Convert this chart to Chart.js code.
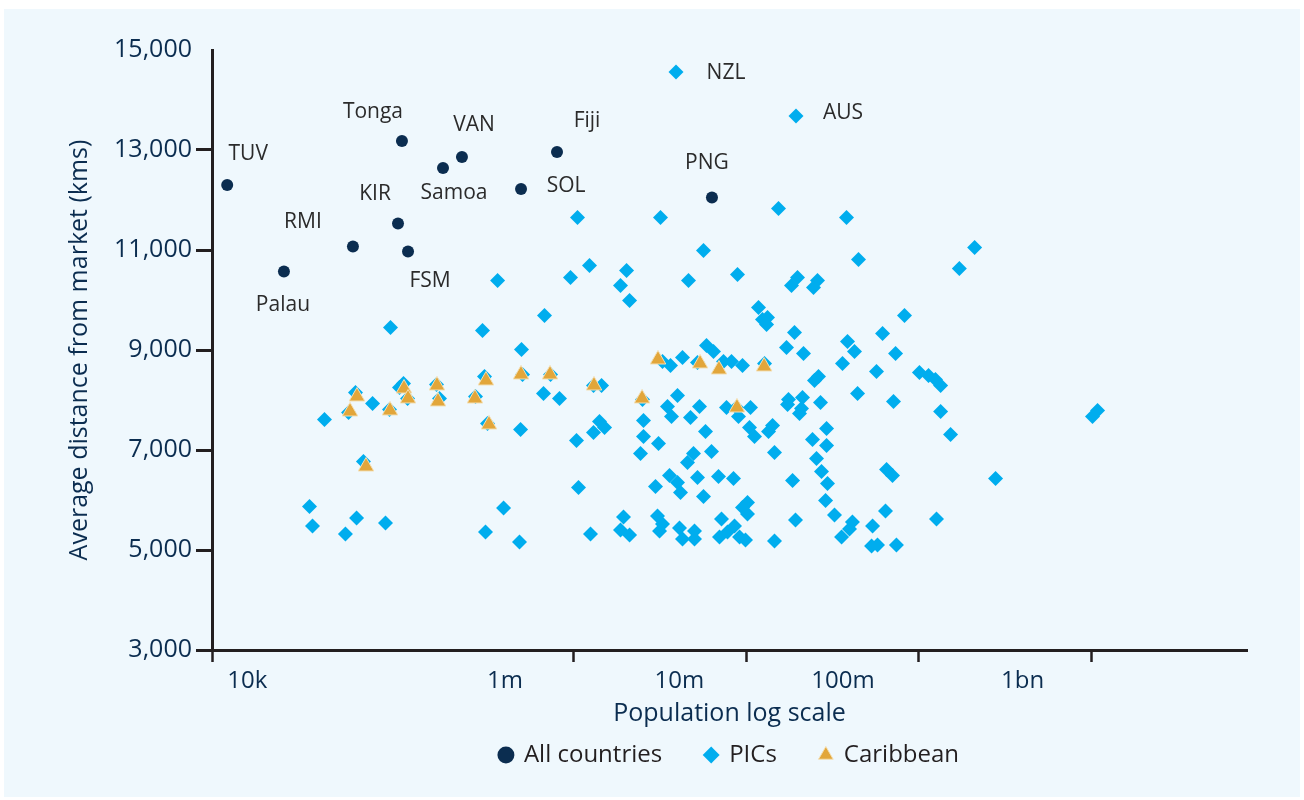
<!DOCTYPE html>
<html>
<head>
<meta charset="utf-8">
<title>Average distance from market vs population</title>
<script src="https://cdn.jsdelivr.net/npm/chart.js@4.4.1/dist/chart.umd.min.js"></script>
<style>
  html, body { margin: 0; padding: 0; background: #ffffff; }
  #panel { position: absolute; left: 4px; top: 9px; width: 1296px; height: 788px; background: #eff8fd; }
  #wrap { position: absolute; left: 0; top: 0; width: 1304px; height: 800px; }
</style>
</head>
<body>
<div id="panel"></div>
<div id="wrap"><canvas id="chart" width="1304" height="800"></canvas></div>
<script>
// -------------------------------
// Data --------------------------
// -------------------------------
const ALL_NAMES = ["TUV", "Palau", "RMI", "KIR", "Tonga", "FSM", "Samoa", "VAN", "SOL", "Fiji", "PNG"];
const ALL_POP = [9800, 20900, 52500, 95800, 101000, 109500, 174700, 225000, 495000, 800000, 6330000];
const ALL_DIST = [12300, 10570, 11070, 11530, 13180, 10970, 12640, 12860, 12220, 12960, 12050];

// first two PICs carry a name tag
const PIC_NAMES = ["NZL", "AUS"];
const PIC_POP = [
  3917000, 19440000,
  86700, 296000, 677000, 498000, 362000, 68200, 35900, 668000, 827000, 492000,
  1411000, 1509000, 1302000, 1038000, 1066000, 392000, 29400, 30600, 55100, 47500,
  81100, 308000, 485000, 1251000, 54300, 49500, 85500, 103100, 97700, 108800,
  160200, 166700, 269600, 304000, 316400, 505000, 734000, 1302000, 1450000, 60400,
  2505000, 1052000, 3186000, 15390000, 38140000, 5656000, 44770000, 1235000, 958000, 2024000,
  1868000, 2107000, 4630000, 8904000, 19830000, 18310000, 25900000, 24550000, 11780000, 12430000,
  13290000, 13120000, 19050000, 17120000, 21490000, 36160000, 38650000, 42440000, 26250000, 24880000,
  82700000, 61700000, 73400000, 56900000, 101000000, 114000000, 125000000, 134000000, 211000000, 172000000,
  44200000, 71400000, 134000000, 153000000, 1088000000, 1017000000, 279000000, 65100000, 70500000, 64200000,
  126800000, 54000000, 41300000, 39700000, 35700000, 53300000, 57700000, 74300000, 5887000, 6463000,
  4272000, 3272000, 3640000, 5220000, 7386000, 8217000, 9519000, 12770000, 3997000, 3497000,
  3690000, 5362000, 4755000, 7688000, 8786000, 9024000, 10590000, 2539000, 2539000, 3101000,
  2439000, 5809000, 10450000, 11170000, 13470000, 14210000, 14590000, 6293000, 4949000, 4567000,
  17590000, 17360000, 21200000, 26960000, 20920000, 20370000, 29220000, 24230000, 29220000, 25560000,
  27320000, 29600000, 28830000, 32500000, 18560000, 3592000, 3997000, 4160000, 5220000, 6908000,
  8440000, 2980000, 5656000, 10170000, 9519000, 10170000, 1944000, 1868000, 2107000, 3060000,
  3272000, 3144000, 4105000, 4272000, 5015000, 5015000, 7192000, 7003000, 7792000, 8553000,
  9147000, 9906000, 14590000, 19310000,
];
const PIC_DIST = [
  14560, 13680,
  9450, 9390, 9690, 9010, 10390, 7930, 7610, 8130, 8030, 7410,
  7570, 7450, 7350, 7190, 6250, 5840, 5870, 5480, 5640, 5320,
  5540, 5360, 5160, 5320, 8150, 7750, 7810, 8330, 8250, 8030,
  8310, 8030, 8070, 8470, 7530, 8510, 8510, 8290, 8290, 6770,
  8010, 11650, 11650, 11830, 11650, 10990, 10810, 10690, 10450, 10590,
  10290, 9990, 10390, 10510, 10450, 10290, 10390, 10250, 9850, 9610,
  9650, 9510, 9350, 9050, 8930, 8730, 9170, 8970, 8470, 8390,
  9690, 9330, 8930, 8570, 8550, 8490, 8410, 8290, 11050, 10630,
  8130, 7970, 7770, 7310, 7790, 7670, 6430, 6610, 6490, 5780,
  5620, 5480, 5560, 5420, 5260, 5080, 5100, 5100, 9090, 8970,
  8850, 8770, 8690, 8750, 8770, 8770, 8690, 8730, 8090, 7870,
  7670, 7870, 7650, 7850, 7850, 7670, 7850, 7590, 7270, 7130,
  6930, 7370, 7450, 7270, 7370, 7490, 6950, 6970, 6930, 6750,
  8010, 7910, 8050, 7950, 7830, 7730, 7430, 7210, 7090, 6830,
  6570, 6330, 5990, 5700, 6390, 6490, 6350, 6150, 6450, 6470,
  6430, 6270, 6070, 5950, 5850, 5720, 5660, 5400, 5300, 5680,
  5520, 5380, 5440, 5220, 5380, 5220, 5620, 5260, 5360, 5480,
  5260, 5200, 5180, 5600,
];

const CAR_POP = [
  55400, 50500, 86100, 103800, 109500, 161200, 163400, 267700, 310000, 322800,
  494800, 728800, 1311000, 62500, 3080000, 5400000, 6950000, 12700000, 2490000, 8840000,
];
const CAR_DIST = [
  8070, 7770, 7790, 8230, 8030, 8290, 7970, 8030, 8390, 7510,
  8510, 8510, 8290, 6670, 8810, 8730, 8610, 8670, 8030, 7850,
];

// axis range and ticks
const X_MIN = 8000;
const X_MAX = 8e9;
const X_MARKS = [8000, 1e6, 1e7, 1e8, 1e9];
// the source prints its labels left of the tick marks
const X_LABELS = ["10k", "1m", "10m", "100m", "1bn"];
const X_LABEL_AT = [12800, 4e5, 4.1e6, 3.64e7, 4e8];
const Y_MIN = 3000;
const Y_MAX = 15000;
const Y_STEP = 2000;

// -------------------------------
// Styling -----------------------
// -------------------------------
const NAVY = "#0b2d50";
const AXIS = "#231f20";
const TEXT = "#2b2b2b";

// name tag offsets from their point, in pixels
const TAG_SHIFT = {
  TUV: [21, -31], Palau: [-1, 34], RMI: [-50, -24], KIR: [-23, -29],
  Tonga: [-29, -29], FSM: [22, 30], Samoa: [11, 25], VAN: [12, -32],
  SOL: [45, -3], Fiji: [30, -31], PNG: [-5, -34], NZL: [50, 1], AUS: [47, -3],
};

Chart.defaults.font.family = '"Open Sans", sans-serif';
Chart.defaults.color = NAVY;

const toPoints = (xs, ys) => xs.map((x, i) => ({ x: x, y: ys[i] }));

const nameTags = {
  id: "nameTags",
  afterDatasetsDraw(chart) {
    const { ctx, scales } = chart;
    ctx.save();
    ctx.font = '21px "Open Sans"';
    ctx.fillStyle = TEXT;
    ctx.textAlign = "center";
    ctx.textBaseline = "middle";
    const tag = (names, pops, dists) => names.forEach((name, i) => {
      const shift = TAG_SHIFT[name];
      ctx.fillText(
        name,
        scales.x.getPixelForValue(pops[i]) + shift[0],
        scales.y.getPixelForValue(dists[i]) + shift[1]
      );
    });
    tag(ALL_NAMES, ALL_POP, ALL_DIST);
    tag(PIC_NAMES, PIC_POP, PIC_DIST);
    ctx.restore();
  },
};

// -------------------------------
// Chart -------------------------
// -------------------------------
const ctx = document.getElementById("chart").getContext("2d");
const chart = new Chart(ctx, {
  type: "scatter",
  data: {
    datasets: [
      {
        label: "All countries",
        data: toPoints(ALL_POP, ALL_DIST),
        pointStyle: "circle",
        pointRadius: 6,
        backgroundColor: NAVY,
        borderWidth: 0,
        order: 0,
      },
      {
        label: "PICs",
        data: toPoints(PIC_POP, PIC_DIST),
        pointStyle: "rectRot",
        pointRadius: 7.5,
        backgroundColor: "#00adee",
        borderWidth: 0,
        order: 2,
      },
      {
        label: "Caribbean",
        data: toPoints(CAR_POP, CAR_DIST),
        pointStyle: "triangle",
        pointRadius: 9,
        backgroundColor: "#e2a63a",
        borderColor: "#f3dfb4",
        borderWidth: 1,
        order: 1,
      },
    ],
  },
  options: {
    responsive: false,
    animation: false,
    events: [],
    devicePixelRatio: 1,
    layout: { padding: { top: 50, right: 57, bottom: 23, left: 0 } },
    plugins: {
      tooltip: { enabled: false },
      legend: {
        position: "bottom",
        fullSize: false,
        labels: {
          usePointStyle: true,
          boxWidth: 12,
          boxHeight: 12,
          padding: 43,
          color: AXIS,
          font: { size: 24 },
          sort: (a, b) => a.datasetIndex - b.datasetIndex,
        },
      },
    },
    scales: {
      x: {
        type: "logarithmic",
        min: X_MIN,
        max: X_MAX,
        position: "bottom",
        weight: 0,
        afterBuildTicks: (s) => { s.ticks = X_MARKS.map((v) => ({ value: v })); },
        afterFit: (s) => { s.height = 9; },
        ticks: { display: false },
        grid: { drawOnChartArea: false, tickLength: 12, tickWidth: 2.5, tickColor: AXIS, color: AXIS },
        border: { color: AXIS, width: 3 },
      },
      x2: {
        type: "logarithmic",
        axis: "x",
        min: X_MIN,
        max: X_MAX,
        position: "bottom",
        weight: 1,
        afterBuildTicks: (s) => { s.ticks = X_LABEL_AT.map((v) => ({ value: v })); },
        afterFit: (s) => { s.height = 41; },
        ticks: {
          autoSkip: false,
          maxRotation: 0,
          padding: 0,
          color: NAVY,
          font: { size: 24 },
          callback: (v, i) => X_LABELS[i],
        },
        grid: { display: false },
        border: { display: false },
        title: {
          display: true,
          text: "Population log scale",
          color: NAVY,
          font: { size: 25 },
          padding: { top: 0, bottom: -29 },
        },
      },
      y: {
        min: Y_MIN,
        max: Y_MAX,
        afterFit: (s) => { s.width = 212; },
        ticks: {
          stepSize: Y_STEP,
          padding: 4,
          color: NAVY,
          font: { size: 25 },
          callback: (v) => v.toLocaleString("en-US"),
        },
        grid: {
          drawOnChartArea: false,
          tickLength: 16,
          tickWidth: 3,
          tickColor: (c) => (c.tick && c.tick.value === Y_MAX ? "rgba(0,0,0,0)" : AXIS),
        },
        border: { color: AXIS, width: 3 },
        title: {
          display: true,
          text: "Average distance from market (kms)",
          color: NAVY,
          font: { size: 25 },
          padding: { top: 65, bottom: 0 },
        },
      },
    },
  },
  plugins: [nameTags],
});
</script>
</body>
</html>
